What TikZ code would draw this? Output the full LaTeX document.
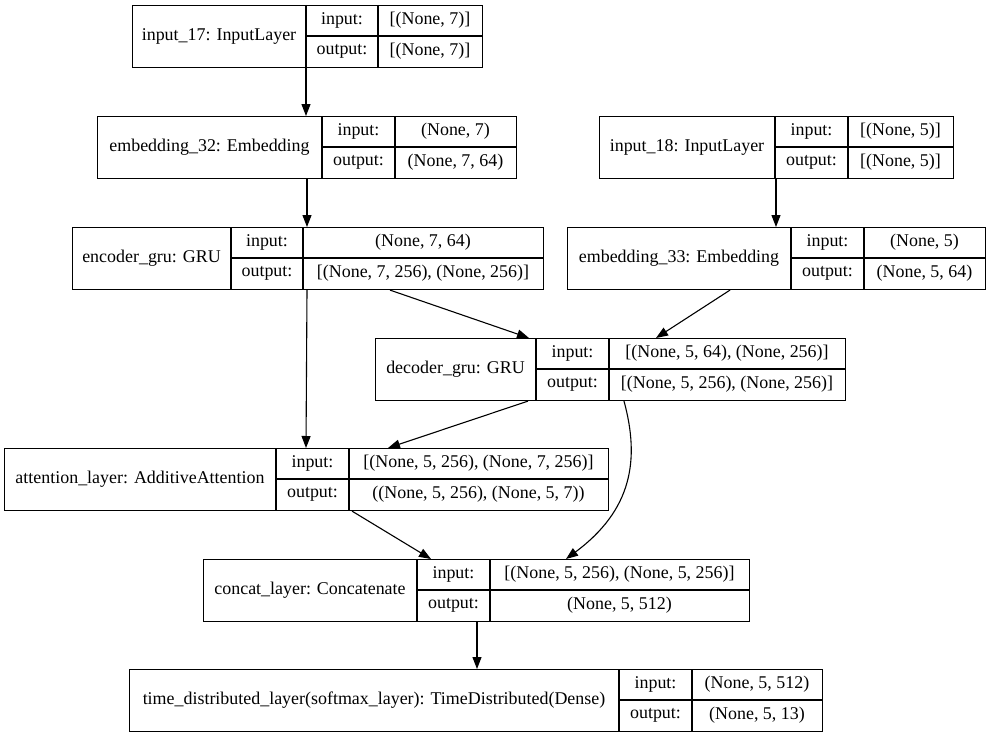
\documentclass[tikz,border=0pt]{standalone}
\usepackage{fontspec}
\setmainfont{Liberation Serif}
\usetikzlibrary{arrows.meta,calc}
\tikzset{
  recbox/.style={draw, rectangle, line width=1.1bp, inner sep=0pt, minimum height=62bp},
  recline/.style={line width=1.1bp},
  txt/.style={inner sep=0pt, font=\fontsize{18}{20}\selectfont},
  conn/.style={line width=1.1bp, -{Triangle[length=12bp,width=9bp]}}
}
% #1 name, #2 left, #3 top, #4 divider1, #5 divider2, #6 right, #7 title, #8 input, #9 output
\newcommand{\layerrec}[9]{%
  \node[recbox, minimum width={#6bp-#2bp}, anchor=north west] (#1) at (#2,#3) {};
  \draw[recline] (#4,#3) -- (#4,#3+62);
  \draw[recline] (#5,#3) -- (#5,#3+62);
  \draw[recline] (#4,#3+31) -- (#6,#3+31);
  \node[txt] (#1-name) at ({(#2+#4)/2},#3+31) {#7};
  \node[txt] (#1-il) at ({(#4+#5)/2},#3+15.5) {input:};
  \node[txt] (#1-ol) at ({(#4+#5)/2},#3+46.5) {output:};
  \node[txt] (#1-iv) at ({(#5+#6)/2},#3+15.5) {#8};
  \node[txt] (#1-ov) at ({(#5+#6)/2},#3+46.5) {#9};
}
\begin{document}
\begin{tikzpicture}[x=1bp,y=-1bp]
\useasboundingbox[fill=white] (0,0) rectangle (990,737);

\layerrec{in17}{132}{5}{306}{378}{482}{input\_17: InputLayer}{[(None, 7)]}{[(None, 7)]}
\layerrec{emb32}{97}{116}{322}{395}{516}{embedding\_32: Embedding}{(None, 7)}{(None, 7, 64)}
\layerrec{in18}{599}{116}{775}{848}{953}{input\_18: InputLayer}{[(None, 5)]}{[(None, 5)]}
\layerrec{enc}{72}{227}{231}{303}{543}{encoder\_gru: GRU}{(None, 7, 64)}{[(None, 7, 256), (None, 256)]}
\layerrec{emb33}{567}{227}{791}{864}{985}{embedding\_33: Embedding}{(None, 5)}{(None, 5, 64)}
\layerrec{dec}{375}{338}{536}{609}{845}{decoder\_gru: GRU}{[(None, 5, 64), (None, 256)]}{[(None, 5, 256), (None, 256)]}
\layerrec{att}{4}{448}{276}{349}{608}{attention\_layer: AdditiveAttention}{[(None, 5, 256), (None, 7, 256)]}{((None, 5, 256), (None, 5, 7))}
\layerrec{cat}{203}{559}{417}{490}{749}{concat\_layer: Concatenate}{[(None, 5, 256), (None, 5, 256)]}{(None, 5, 512)}
\layerrec{td}{129}{669}{619}{692}{822}{time\_distributed\_layer(softmax\_layer): TimeDistributed(Dense)}{(None, 5, 512)}{(None, 5, 13)}

% connectors
\draw[conn] ($(in17.south west)+(174,0)$) -- ($(emb32.north west)+(209,0)$);
\draw[conn] ($(emb32.south west)+(210,0)$) -- ($(enc.north west)+(235,0)$);
\draw[conn] ($(in18.south west)+(177,0)$) -- ($(emb33.north west)+(209,0)$);
\draw[conn] ($(enc.south west)+(318,0)$) -- ($(dec.north west)+(154,0)$);
\draw[conn] ($(emb33.south west)+(163,0)$) -- ($(dec.north west)+(281,0)$);
\draw[conn] ($(enc.south west)+(235,0)$) -- ($(att.north west)+(302,0)$);
\draw[conn] ($(dec.south west)+(153,0)$) -- ($(att.north west)+(384,0)$);
\draw[conn] ($(att.south west)+(348,0)$) -- ($(cat.north west)+(228,0)$);
\draw[conn] ($(dec.south west)+(249,0)$) .. controls (640,460) and (632,510) .. ($(cat.north west)+(363,0)$);
\draw[conn] ($(cat.south west)+(274,0)$) -- ($(td.north west)+(348,0)$);
\end{tikzpicture}
\end{document}
